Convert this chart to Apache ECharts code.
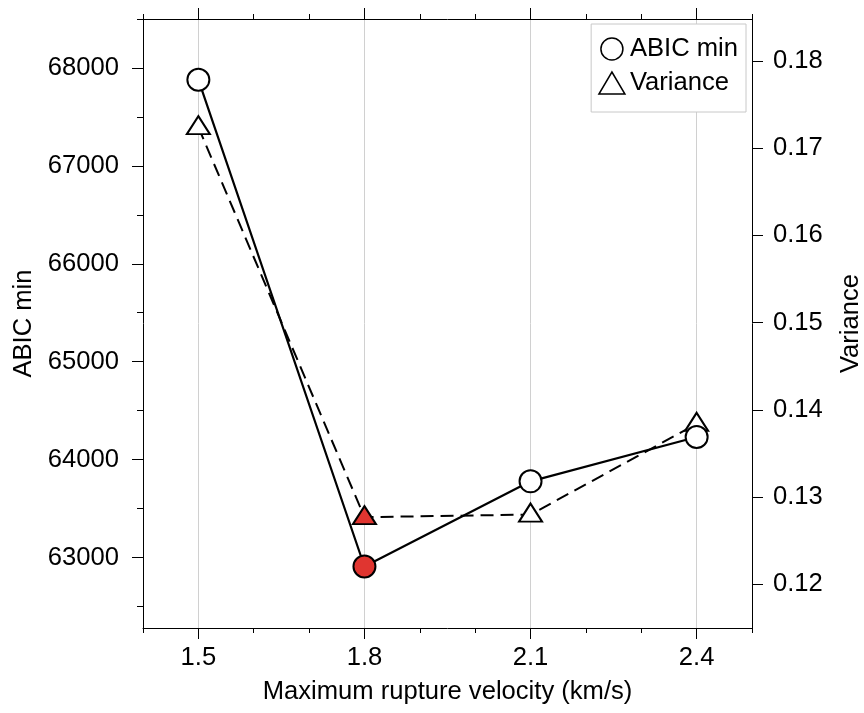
<!DOCTYPE html>
<html>
<head>
<meta charset="utf-8">
<script src="https://cdn.jsdelivr.net/npm/echarts@6/dist/echarts.min.js"></script>
<style>
html,body{margin:0;padding:0;background:#fff;}
#chart{width:864px;height:713px;}
</style>
</head>
<body>
<div id="chart"></div>
<script>
// ---- data ----
const velocities = [1.5, 1.8, 2.1, 2.4];
const abicMin = [67880, 62908, 63778, 64231];
const variance = [0.1724, 0.1277, 0.1280, 0.1384];
const bestIndex = 1;

// ---- ticks ----
const xMajorTicks = [1.5, 1.8, 2.1, 2.4];
const abicMajorTicks = [63000, 64000, 65000, 66000, 67000, 68000];
const abicMinorTicks = [62500, 63500, 64500, 65500, 66500, 67500, 68500];
const varTicks = [0.12, 0.13, 0.14, 0.15, 0.16, 0.17, 0.18];

const FONT = 'Liberation Sans';
const FS = 25.6;
const RED = '#e03530';

const chart = echarts.init(document.getElementById('chart'));

const xRange = {min: 1.4, max: 2.5};
const abicRange = {min: 62280, max: 68500};
const varRange = {min: 0.115, max: 0.1848};

const lineBlack = {color: '#000', width: 1};

function abicData() {
  return velocities.map((v, i) => {
    const d = {value: [v, abicMin[i]]};
    if (i === bestIndex) d.itemStyle = {color: RED};
    return d;
  });
}
function varData() {
  return velocities.map((v, i) => {
    const d = {value: [v, variance[i]]};
    if (i === bestIndex) d.itemStyle = {color: RED};
    return d;
  });
}

const option = {
  animation: false,
  backgroundColor: '#fff',
  textStyle: {fontFamily: FONT, color: '#000'},
  grid: {left: 143, top: 19, right: 112, bottom: 85, containLabel: false, outerBoundsMode: 'none'},
  legend: {
    right: 118, top: 24,
    orient: 'vertical',
    backgroundColor: '#fff',
    borderColor: '#c8c8c8', borderWidth: 1,
    padding: [12, 8, 16, 7],
    itemWidth: 26, itemHeight: 22, itemGap: 8,
    textStyle: {fontFamily: FONT, fontSize: FS, color: '#000', lineHeight: 24},
    itemStyle: {color: '#fff', borderColor: '#000', borderWidth: 1.5},
    data: [
      {name: 'ABIC min', icon: 'circle'},
      {name: 'Variance', icon: 'triangle'}
    ]
  },
  xAxis: [
    { // bottom minor ticks + axis line
      type: 'value', position: 'bottom', ...xRange, interval: 0.1,
      axisLine: {show: true, lineStyle: lineBlack},
      axisTick: {show: true, length: 5, lineStyle: lineBlack},
      axisLabel: {show: false}, splitLine: {show: false}
    },
    { // bottom major ticks + labels + grid
      type: 'value', position: 'bottom', ...xRange,
      name: 'Maximum rupture velocity (km/s)', nameLocation: 'middle', nameGap: 51,
      nameTextStyle: {fontFamily: FONT, fontSize: FS, color: '#000'},
      axisLine: {show: false},
      axisTick: {show: true, length: 11, lineStyle: lineBlack, customValues: xMajorTicks},
      axisLabel: {show: true, margin: 17, fontFamily: FONT, fontSize: FS, color: '#000',
        customValues: xMajorTicks, formatter: v => v.toFixed(1)},
      splitLine: {show: true, lineStyle: {color: '#d0d0d0', width: 1}}
    },
    { // top minor ticks + axis line
      type: 'value', position: 'top', ...xRange, interval: 0.1,
      axisLine: {show: true, lineStyle: lineBlack},
      axisTick: {show: true, length: 5, lineStyle: lineBlack},
      axisLabel: {show: false}, splitLine: {show: false}
    },
    { // top major ticks
      type: 'value', position: 'top', ...xRange,
      axisLine: {show: false},
      axisTick: {show: true, length: 11, lineStyle: lineBlack, customValues: xMajorTicks},
      axisLabel: {show: false}, splitLine: {show: false}
    }
  ],
  yAxis: [
    { // left, minor ticks + axis line
      type: 'value', position: 'left', ...abicRange,
      axisLine: {show: true, lineStyle: lineBlack},
      axisTick: {show: true, length: 6, lineStyle: lineBlack, customValues: abicMinorTicks},
      axisLabel: {show: false}, splitLine: {show: false}
    },
    { // left, major ticks + labels
      type: 'value', position: 'left', ...abicRange,
      name: 'ABIC min', nameLocation: 'middle', nameGap: 106, nameRotate: 90,
      nameTextStyle: {fontFamily: FONT, fontSize: FS, color: '#000'},
      axisLine: {show: false},
      axisTick: {show: true, length: 11, lineStyle: lineBlack, customValues: abicMajorTicks},
      axisLabel: {show: true, margin: 24, fontFamily: FONT, fontSize: FS, color: '#000',
        customValues: abicMajorTicks, formatter: v => String(Math.round(v))},
      splitLine: {show: false}
    },
    { // right, variance
      type: 'value', position: 'right', ...varRange,
      name: 'Variance', nameLocation: 'middle', nameGap: 86, nameRotate: 90,
      nameTextStyle: {fontFamily: FONT, fontSize: FS, color: '#000'},
      axisLine: {show: true, lineStyle: lineBlack},
      axisTick: {show: true, length: 11, lineStyle: lineBlack, customValues: varTicks},
      axisLabel: {show: true, margin: 21, fontFamily: FONT, fontSize: FS, color: '#000',
        customValues: varTicks, formatter: v => v.toFixed(2)},
      splitLine: {show: false}
    }
  ],
  series: [
    {
      name: 'Variance', type: 'line', xAxisIndex: 0, yAxisIndex: 2,
      data: varData(),
      symbol: 'triangle', symbolSize: [23, 18], symbolOffset: [0, -2],
      lineStyle: {color: '#000', width: 2, type: [13, 7]},
      itemStyle: {color: '#fff', borderColor: '#000', borderWidth: 2},
      z: 3
    },
    {
      name: 'ABIC min', type: 'line', xAxisIndex: 0, yAxisIndex: 0,
      data: abicData(),
      symbol: 'circle', symbolSize: 22,
      lineStyle: {color: '#000', width: 2.2},
      itemStyle: {color: '#fff', borderColor: '#000', borderWidth: 2},
      z: 4
    }
  ]
};
chart.setOption(option);
</script>
</body>
</html>
